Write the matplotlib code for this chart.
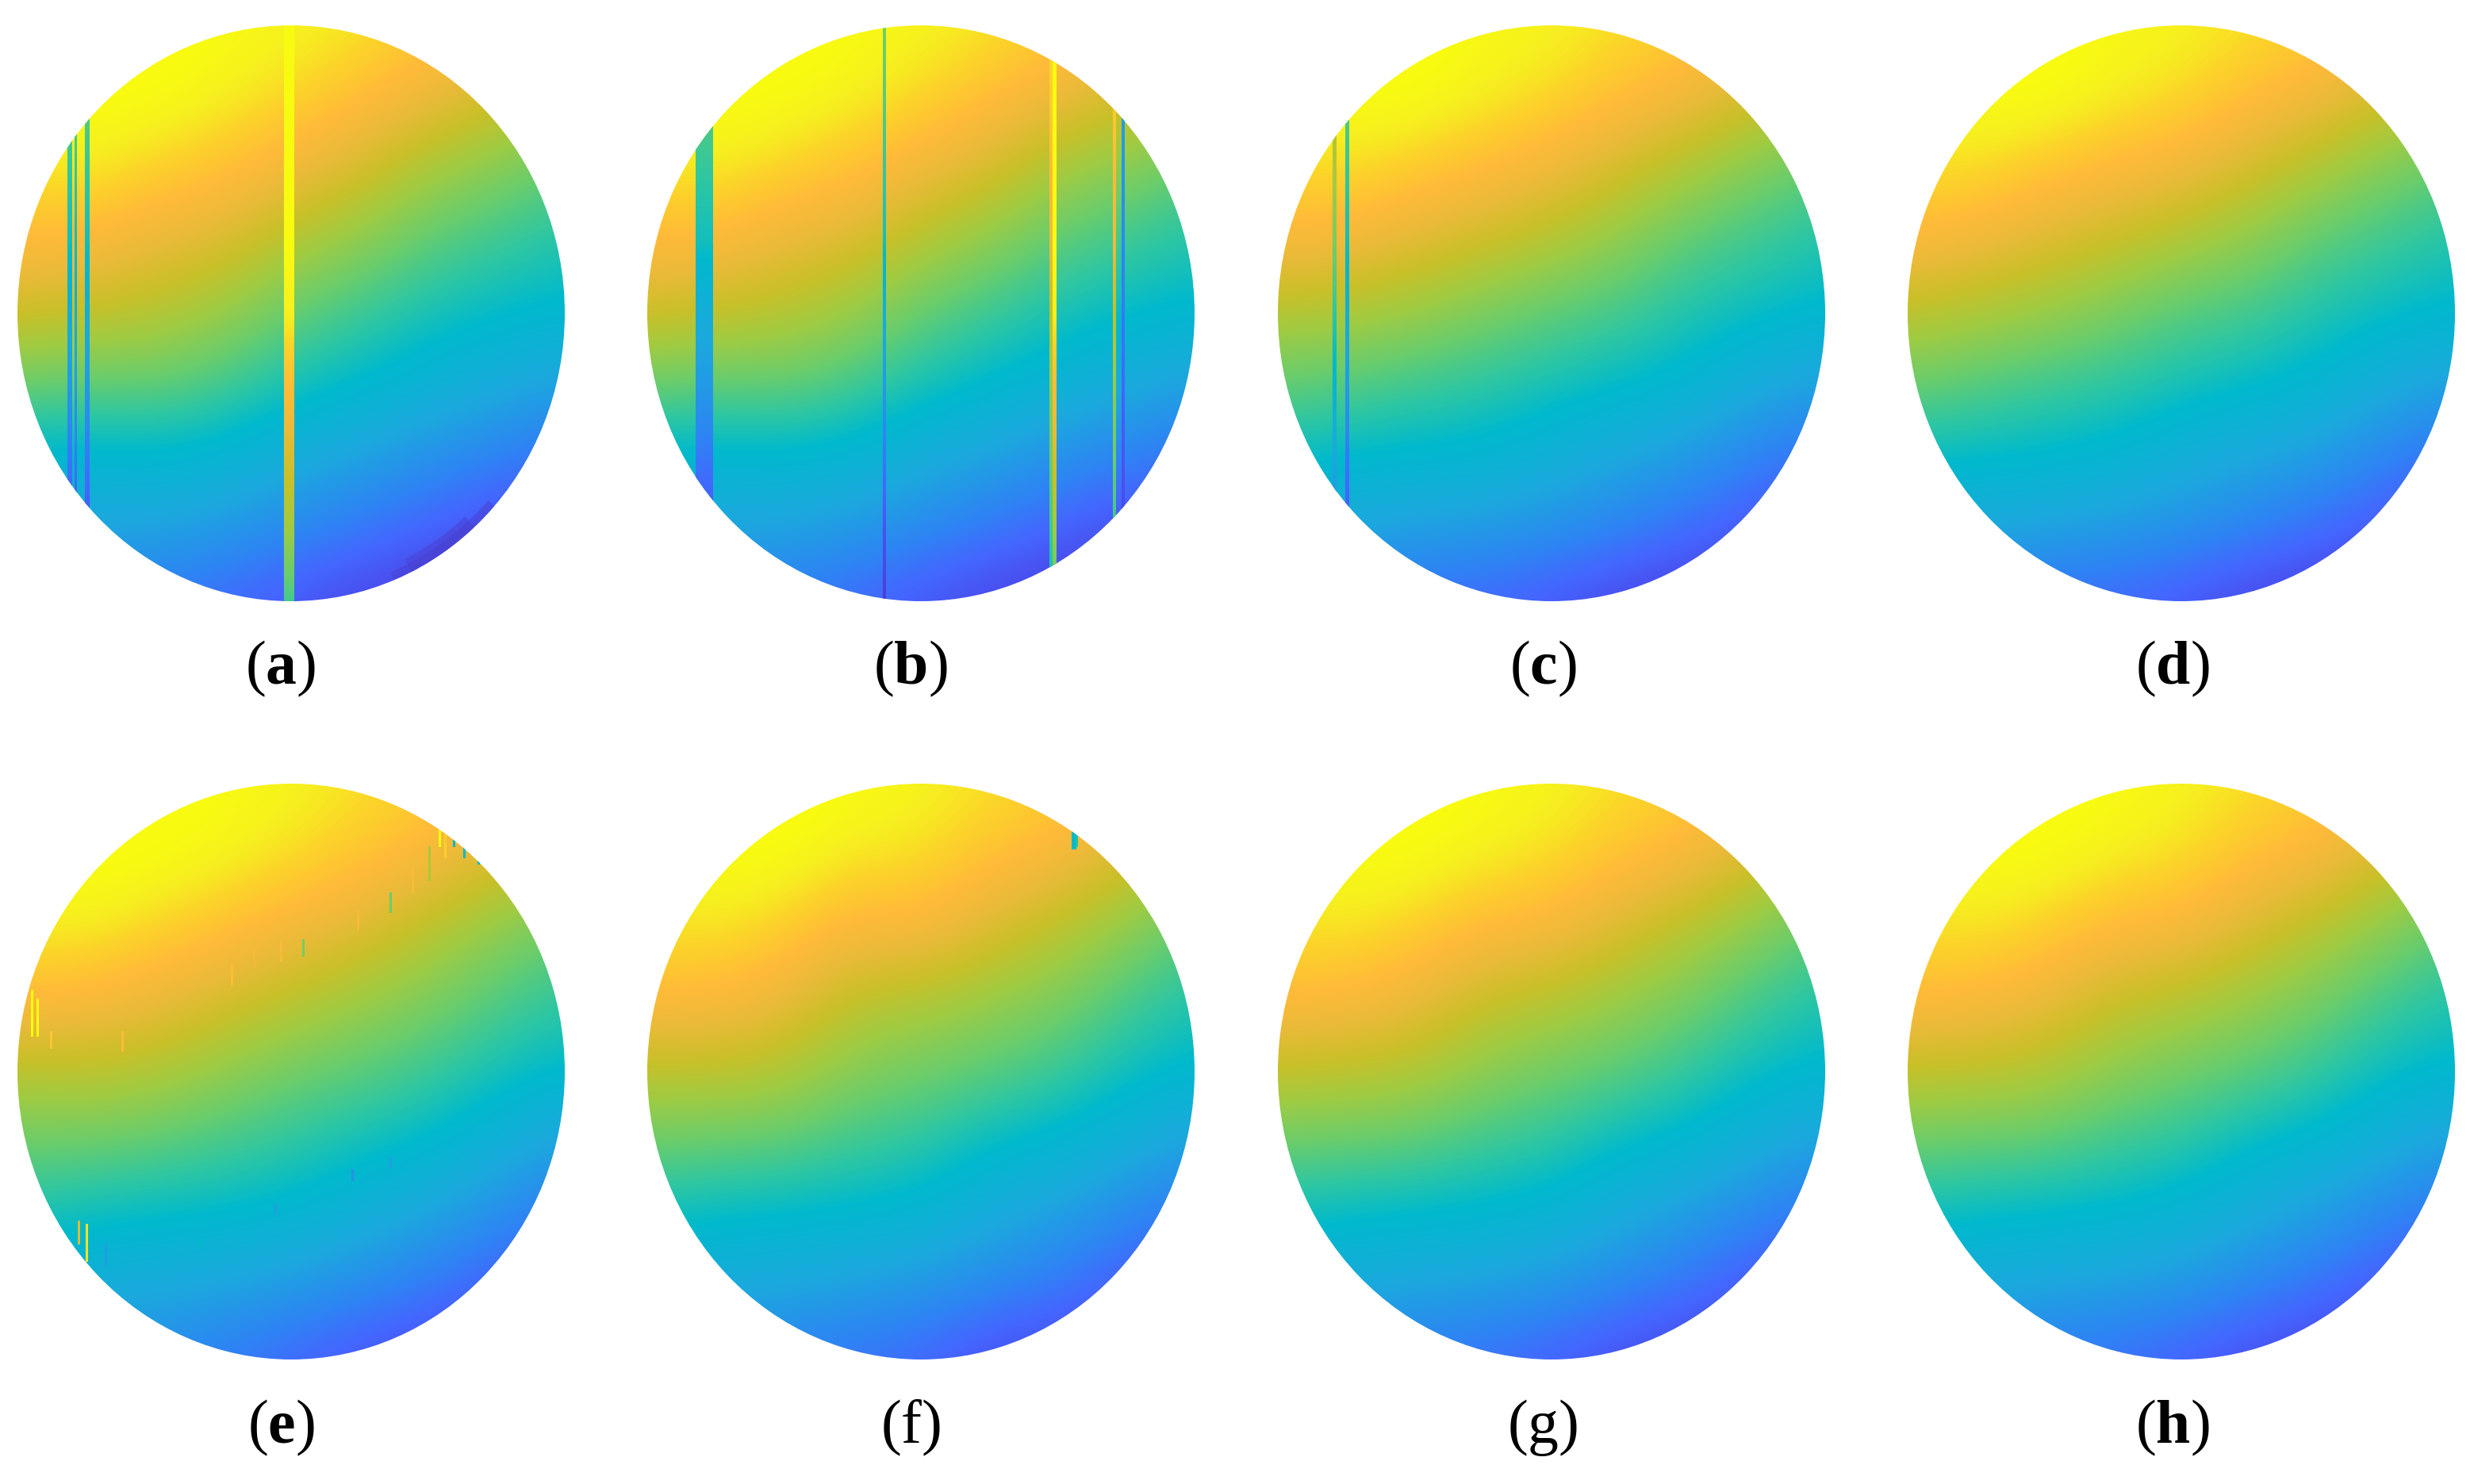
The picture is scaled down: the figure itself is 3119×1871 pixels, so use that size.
# field maps, 8 panels
import numpy as np
import matplotlib
matplotlib.use("Agg")
import matplotlib.pyplot as plt
from matplotlib.colors import LinearSegmentedColormap
from matplotlib.patches import Circle, Wedge

plt.rcParams['font.family'] = ['Liberation Serif', 'DejaVu Serif']
plt.rcParams['mathtext.fontset'] = 'custom'
plt.rcParams['mathtext.bf'] = 'Liberation Serif:bold'
plt.rcParams['mathtext.rm'] = 'Liberation Serif'

W, H = 3119, 1871

# colours, low to high
cmap_stops = [(0, "#4a36c8"), (.05, "#4a4cec"), (.12, "#4466ff"), (.2, "#2e84f4"), (.33, "#1ba9dd"),
              (.45, "#00b9cd"), (.52, "#2cc6a4"), (.6, "#6acd6c"), (.68, "#a0cb42"), (.75, "#c9c028"),
              (.82, "#eaba38"), (.88, "#ffbb38"), (.93, "#fcd22a"), (.97, "#f6f01e"), (1, "#f8fb10")]

labels = ["a", "b", "c", "d", "e", "f", "g", "h"]
label_bold = [True, True, True, True, True, False, False, True]

# values on a 9x9 grid, each inner list is one column (left to right), top to bottom
field_a = np.array([
    [1.02, 1.00, .95, .88, .76, .60, .44, .33, .20],
    [1.03, 1.00, .97, .87, .74, .58, .43, .32, .18],
    [1.02, 1.00, .93, .82, .72, .59, .44, .31, .17],
    [1.00, .97, .90, .79, .67, .55, .42, .28, .12],
    [.98, .94, .84, .71, .59, .49, .36, .22, .08],
    [.96, .89, .78, .65, .54, .45, .31, .17, .03],
    [.92, .83, .69, .58, .49, .40, .25, .11, .00],
    [.88, .77, .64, .54, .46, .35, .20, .05, .00],
    [.85, .72, .58, .50, .44, .30, .14, .04, .00]]).T
field_c = np.array([
    [1.00, .98, .94, .86, .71, .59, .47, .35, .22],
    [1.03, 1.00, .95, .85, .70, .57, .45, .33, .17],
    [1.02, 1.00, .92, .80, .67, .54, .44, .30, .13],
    [.99, .97, .88, .76, .62, .52, .43, .28, .12],
    [.98, .94, .84, .71, .58, .49, .38, .25, .08],
    [.95, .89, .77, .65, .55, .46, .33, .20, .03],
    [.93, .84, .70, .58, .50, .43, .28, .14, .00],
    [.88, .77, .63, .54, .47, .35, .19, .08, .00],
    [.85, .72, .58, .50, .44, .30, .14, .04, .00]]).T
field_d = np.array([
    [1.00, .98, .95, .87, .73, .60, .47, .35, .22],
    [1.03, 1.00, .95, .84, .70, .57, .46, .33, .17],
    [1.02, 1.00, .91, .79, .67, .54, .45, .31, .13],
    [.99, .97, .87, .75, .62, .52, .43, .28, .12],
    [.98, .94, .84, .70, .57, .49, .37, .25, .08],
    [.95, .89, .77, .65, .55, .46, .33, .20, .03],
    [.93, .84, .70, .58, .50, .43, .29, .14, .00],
    [.88, .77, .63, .54, .47, .35, .20, .08, .00],
    [.85, .72, .58, .50, .44, .30, .14, .04, .00]]).T
field_e = np.array([
    [1.02, 1.01, .97, .88, .72, .60, .50, .38, .27],
    [1.03, 1.01, .97, .87, .73, .60, .47, .36, .25],
    [1.02, 1.00, .94, .83, .71, .58, .46, .34, .22],
    [1.00, .98, .90, .78, .66, .55, .45, .32, .17],
    [.98, .95, .85, .73, .61, .52, .43, .28, .12],
    [.95, .91, .80, .68, .58, .48, .38, .23, .07],
    [.93, .86, .73, .63, .54, .45, .32, .17, .04],
    [.88, .79, .66, .57, .49, .38, .24, .10, .02],
    [.85, .73, .60, .52, .45, .30, .16, .05, .00]]).T
field_f = np.array([
    [1.00, .99, .95, .88, .73, .60, .48, .37, .26],
    [1.03, 1.00, .96, .87, .73, .59, .46, .34, .22],
    [1.02, 1.00, .93, .83, .71, .58, .45, .33, .18],
    [1.00, .96, .86, .73, .64, .54, .44, .30, .15],
    [.98, .95, .87, .71, .61, .52, .42, .27, .12],
    [.95, .90, .79, .67, .58, .46, .35, .22, .05],
    [.93, .86, .73, .63, .54, .43, .30, .17, .03],
    [.88, .78, .66, .56, .48, .37, .22, .09, .02],
    [.84, .71, .58, .50, .44, .30, .16, .05, .00]]).T
field_h = np.array([
    [1.00, .99, .95, .88, .74, .60, .48, .36, .25],
    [1.03, 1.00, .96, .87, .73, .59, .46, .34, .20],
    [1.02, 1.00, .93, .83, .71, .58, .45, .32, .17],
    [1.00, .97, .88, .75, .65, .54, .44, .30, .14],
    [.98, .95, .86, .72, .61, .52, .41, .27, .10],
    [.95, .90, .79, .67, .58, .46, .35, .21, .05],
    [.93, .86, .72, .62, .53, .43, .29, .15, .02],
    [.88, .78, .65, .55, .47, .36, .21, .08, .01],
    [.84, .71, .58, .50, .44, .30, .15, .04, .00]]).T

fields = [field_a, field_a, field_c, field_d, field_e, field_f, field_h, field_h]

# stripe values, top to bottom
stripe_big = [1.0, 1.0, 1.0, 1.0, .97, .88, .78, .68, .55]
stripe_low = [.62, .58, .53, .48, .36, .28, .17, .07, .02]
stripe_mid = [.95, .92, .88, .84, .74, .66, .60, .54, .46]
stripe_dark = [.35, .30, .27, .22, .17, .12, .08, .04, .02]
stripe_olive = [.76, .74, .70, .62, .52, .42, .32, .24, .18]

# per panel: (left, right, values) across the circle, -1 to 1
stripes = {
    0: [(-.816, -.80, stripe_low), (-.79, -.782, stripe_low), (-.754, -.737, stripe_low), (-.025, .01, stripe_big)],
    1: [(-.824, -.762, stripe_low), (-.138, -.128, stripe_low), (.47, .481, stripe_mid),
        (.481, .495, stripe_big), (.702, .712, stripe_mid), (.734, .743, stripe_dark)],
    2: [(-.80, -.786, stripe_olive), (-.755, -.742, stripe_low)],
}

# dark rim at the lower right of (a): angle from, angle to, rim width
rims = {0: [(-68, -42, .03), (-64, -48, .05)]}

# specks in (e) and (f): x, top, bottom, value
specks_e = [(-.95, .28, .12, 1.0), (-.93, .25, .12, 1.0), (-.88, .14, .08, .9), (-.62, .14, .07, .88),
            (-.22, .37, .30, .88), (-.14, .43, .36, .85), (-.04, .46, .38, .86), (.04, .46, .40, .62),
            (.24, .56, .49, .86), (.36, .62, .55, .60), (.44, .70, .62, .86), (.50, .78, .66, .70),
            (.56, .84, .74, .92), (.54, .86, .78, 1.0), (.59, .86, .78, .45), (.63, .82, .74, .45),
            (.68, .76, .72, .42), (-.75, -.53, -.66, .95), (-.78, -.52, -.60, .80), (-.68, -.60, -.68, .30),
            (-.34, -.58, -.62, .45), (-.06, -.46, -.50, .30), (.22, -.34, -.38, .25), (.36, -.30, -.34, .30)]
specks_f = [(.55, .84, .77, .45), (.558, .84, .77, .45), (.566, .82, .78, .50)]
specks = {4: specks_e, 5: specks_f}

# circle boxes in pixels
col_left = [22, 816, 1611, 2405]
row_top = [32, 988]
circle_w = 690
circle_h = 726

label_x = [354, 1148, 1945, 2739]
label_y = [843, 1800]

cmap = LinearSegmentedColormap.from_list("field", cmap_stops, N=256)

fig = plt.figure(figsize=(W / 100, H / 100), dpi=100)
for i in range(8):
    row, col = i // 4, i % 4
    ax = fig.add_axes([col_left[col] / W, 1 - (row_top[row] + circle_h) / H, circle_w / W, circle_h / H])
    ax.set_axis_off()
    clip = Circle((0, 0), 1, transform=ax.transData)
    im = ax.imshow(fields[i], cmap=cmap, vmin=0, vmax=1, aspect="auto", interpolation="bicubic",
                   extent=(-1.125, 1.125, -1.125, 1.125))
    im.set_clip_path(clip)
    for a0, a1, width in rims.get(i, []):
        ax.add_patch(Wedge((0, 0), 1, a0, a1, width=width, color="#4a3fd0", alpha=.5, lw=0))
    for left, right, values in stripes.get(i, []):
        s = ax.imshow(np.array(values)[:, None], cmap=cmap, vmin=0, vmax=1, aspect="auto",
                      interpolation="bilinear", extent=(left, right, -1.125, 1.125))
        s.set_clip_path(clip)
    for x, top, bottom, value in specks.get(i, []):
        s = ax.imshow([[value]], cmap=cmap, vmin=0, vmax=1, aspect="auto",
                      interpolation="nearest", extent=(x, x + .008, bottom, top))
        s.set_clip_path(clip)
    ax.set_xlim(-1, 1)
    ax.set_ylim(-1, 1)
    style = r"($\mathbf{%s}$)" if label_bold[i] else r"($\mathrm{%s}$)"
    fig.text(label_x[col] / W, 1 - label_y[row] / H, style % labels[i],
             ha="center", va="center", fontsize=56, color="black")

fig.savefig("out.png", dpi=100, facecolor="white")
